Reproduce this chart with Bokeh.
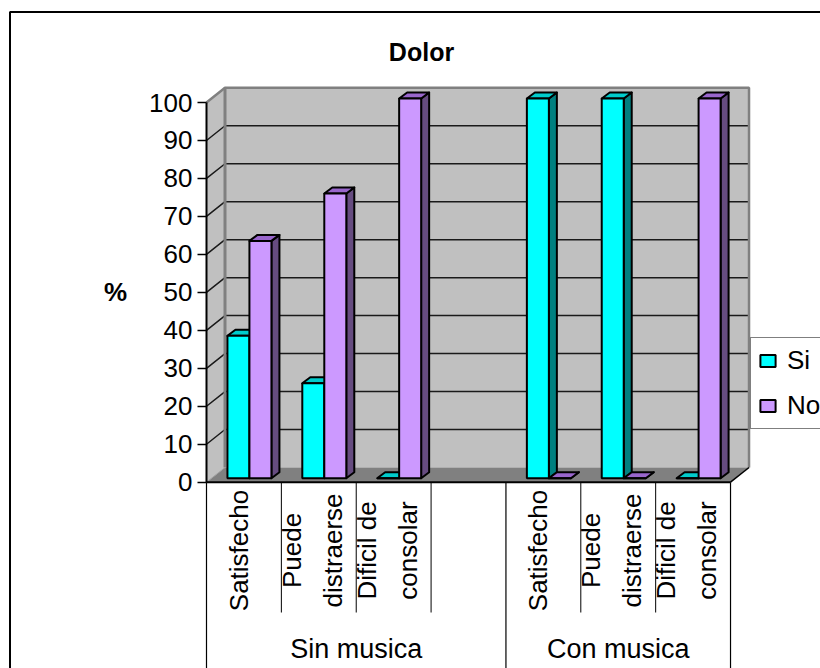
from bokeh.embed import file_html
from bokeh.resources import INLINE
from bokeh.core.properties import value
from bokeh.models import ColumnDataSource, Legend, LegendItem, Range1d, FixedTicker
from bokeh.plotting import figure
import math

title_text = "Dolor"
value_unit = "%"
value_ticks = [0, 10, 20, 30, 40, 50, 60, 70, 80, 90, 100]
group_names = ["Sin musica", "Con musica"]
group_spans = [(0, 4), (4, 7)]
slots = [0.5, 1.5, 2.5, 4.5, 5.5, 6.5]
category_lines = [
    ["Satisfecho"], ["Puede", "distraerse"], ["Dificil de", "consolar"],
    ["Satisfecho"], ["Puede", "distraerse"], ["Dificil de", "consolar"],
]
si_values = [37.5, 25, 0, 100, 100, 0]
no_values = [62.5, 75, 100, 0, 0, 100]

FONT = "Liberation Sans"
W, H = 820, 668
X0_PX, Y0_PX = 206.0, 481.7
SLOT_PX = 74.86
UNIT_PX = 3.797


def dx(px):
    return px / SLOT_PX


def dy(px):
    return px / UNIT_PX


def xpx(px):
    return (px - X0_PX) / SLOT_PX


def ypx(py):
    return (Y0_PX - py) / UNIT_PX


WALL_DX, WALL_DY = dx(18.5), dy(14.7)
BAR_W = dx(22)
BAR_SHIFT_X, BAR_SHIFT_Y = dx(5.5), dy(4.0)
BAR_DX, BAR_DY = dx(8), dy(6)

p = figure(
    width=W, height=H, output_backend="svg", toolbar_location=None,
    x_axis_location=None, y_axis_location="left",
    x_range=Range1d(xpx(0), xpx(W)),
    y_range=Range1d(ypx(H), ypx(0)),
    min_border=0, outline_line_color=None,
    background_fill_color="white", border_fill_color="white",
)
p.xgrid.visible = False
p.ygrid.visible = False

# Outer chart frame, running off the right and bottom of the page
p.line([xpx(9.5), xpx(9.5), xpx(W + 20)], [ypx(H + 20), ypx(11.5), ypx(11.5)],
       line_color="black", line_width=2)

# Title and unit label
p.text(x=[xpx(421)], y=[ypx(51)], text=[title_text], text_align="center", text_baseline="middle",
       text_color="black", text_font=value(FONT), text_font_size="25px", text_font_style="bold")
p.text(x=[xpx(115)], y=[ypx(291)], text=[value_unit], text_align="center", text_baseline="middle",
       text_color="black", text_font=value(FONT), text_font_size="26px", text_font_style="bold")

# Box walls and floor
n = 7
p.patch([0, WALL_DX, WALL_DX, 0], [0, WALL_DY, 100 + WALL_DY, 100], fill_color="#C0C0C0", line_color=None)
p.quad(left=WALL_DX, right=n + WALL_DX, bottom=WALL_DY, top=100 + WALL_DY, fill_color="#C0C0C0", line_color=None)
p.patch([0, n, n + WALL_DX, WALL_DX], [0, 0, WALL_DY, WALL_DY], fill_color="#808080", line_color=None)

# Gridlines along the back wall and side wall
inner = [t for t in value_ticks if 0 < t < 100]
p.multi_line(
    [[0, WALL_DX, n + WALL_DX] for t in inner],
    [[t, t + WALL_DY, t + WALL_DY] for t in inner],
    line_color="#1a1a1a", line_width=1.5,
)
p.line([0, WALL_DX, n + WALL_DX, n + WALL_DX],
       [100, 100 + WALL_DY, 100 + WALL_DY, WALL_DY], line_color="#808080", line_width=2.5)
p.line([WALL_DX, WALL_DX], [WALL_DY, 100 + WALL_DY], line_color="#808080", line_width=3)
p.line([0, WALL_DX], [0, WALL_DY], line_color="#A0A0A0", line_width=1)
p.line([n, n + WALL_DX], [0, WALL_DY], line_color="black", line_width=1.5)


def draw_series(values, offset, front, top_c, side_c):
    xs = [s + BAR_SHIFT_X + offset for s in slots]
    tops = [v + BAR_SHIFT_Y for v in values]
    side_x, side_y, top_x, top_y = [], [], [], []
    for x, t in zip(xs, tops):
        r, l = x + BAR_W / 2, x - BAR_W / 2
        side_x.append([r, r + BAR_DX, r + BAR_DX, r])
        side_y.append([BAR_SHIFT_Y, BAR_SHIFT_Y + BAR_DY, t + BAR_DY, t])
        top_x.append([l, r, r + BAR_DX, l + BAR_DX])
        top_y.append([t, t, t + BAR_DY, t + BAR_DY])
    p.patches(side_x, side_y, fill_color=side_c, line_color="black", line_width=2, line_join="round")
    p.patches(top_x, top_y, fill_color=top_c, line_color="black", line_width=2, line_join="round")
    src = ColumnDataSource(dict(x=xs, top=tops, bottom=[BAR_SHIFT_Y] * len(xs)))
    return p.vbar(x="x", top="top", bottom="bottom", width=BAR_W, source=src,
                  fill_color=front, line_color="black", line_width=2)


r_si = draw_series(si_values, -BAR_W / 2, "#00FFFF", "#00CCCC", "#008080")
r_no = draw_series(no_values, BAR_W / 2, "#CC99FF", "#9966CC", "#664C80")

# Category axis: baseline, separators, labels
p.line([0, n], [0, 0], line_color="black", line_width=2)
inner_bounds = [1, 2, 3, 5, 6]
p.segment(x0=inner_bounds, x1=inner_bounds, y0=[0] * 5, y1=[ypx(612)] * 5, line_color="black", line_width=1)
outer_bounds = sorted({b for span in group_spans for b in span})
p.segment(x0=outer_bounds, x1=outer_bounds, y0=[0] * len(outer_bounds), y1=[ypx(H)] * len(outer_bounds),
          line_color="black", line_width=1.2)

label_x, label_text = [], []
for s, lines in zip(slots, category_lines):
    shifts = [dx(-5)] if len(lines) == 1 else [dx(-27), dx(14)]
    for line, sh in zip(lines, shifts):
        label_x.append(s + sh)
        label_text.append(line)
p.text(x=label_x, y=[ypx(550)] * len(label_x), text=label_text, angle=math.pi / 2,
       text_align="center", text_baseline="middle", text_color="black",
       text_font=value(FONT), text_font_size="26px")

p.text(x=[(a + b) / 2 for a, b in group_spans], y=[ypx(648)] * 2, text=group_names,
       text_align="center", text_baseline="middle", text_color="black",
       text_font=value(FONT), text_font_size="27px")

# Value axis, pinned at the front edge of the box
ax = p.yaxis[0]
ax.fixed_location = 0
ax.bounds = (0, 100)
ax.ticker = FixedTicker(ticks=value_ticks)
ax.axis_line_color = "black"
ax.axis_line_width = 2
ax.major_tick_line_color = "black"
ax.major_tick_line_width = 1.5
ax.major_tick_out = 9
ax.major_tick_in = 0
ax.minor_tick_line_color = None
ax.major_label_standoff = 5
ax.major_label_text_font = FONT
ax.major_label_text_font_size = "26px"
ax.major_label_text_color = "black"

# Legend, overhanging the right edge of the page
legend = Legend(
    items=[LegendItem(label="Si", renderers=[r_si]), LegendItem(label="No", renderers=[r_no])],
    location=(750, 239), orientation="vertical",
    label_text_font=FONT, label_text_font_size="26px", label_text_color="black",
    glyph_width=19, glyph_height=15, label_standoff=10, spacing=14,
    padding=7, margin=0,
    border_line_color="black", border_line_width=1.5,
    background_fill_color="white", background_fill_alpha=1.0,
)
p.add_layout(legend)

open("out.html", "w").write(file_html(p, INLINE))
